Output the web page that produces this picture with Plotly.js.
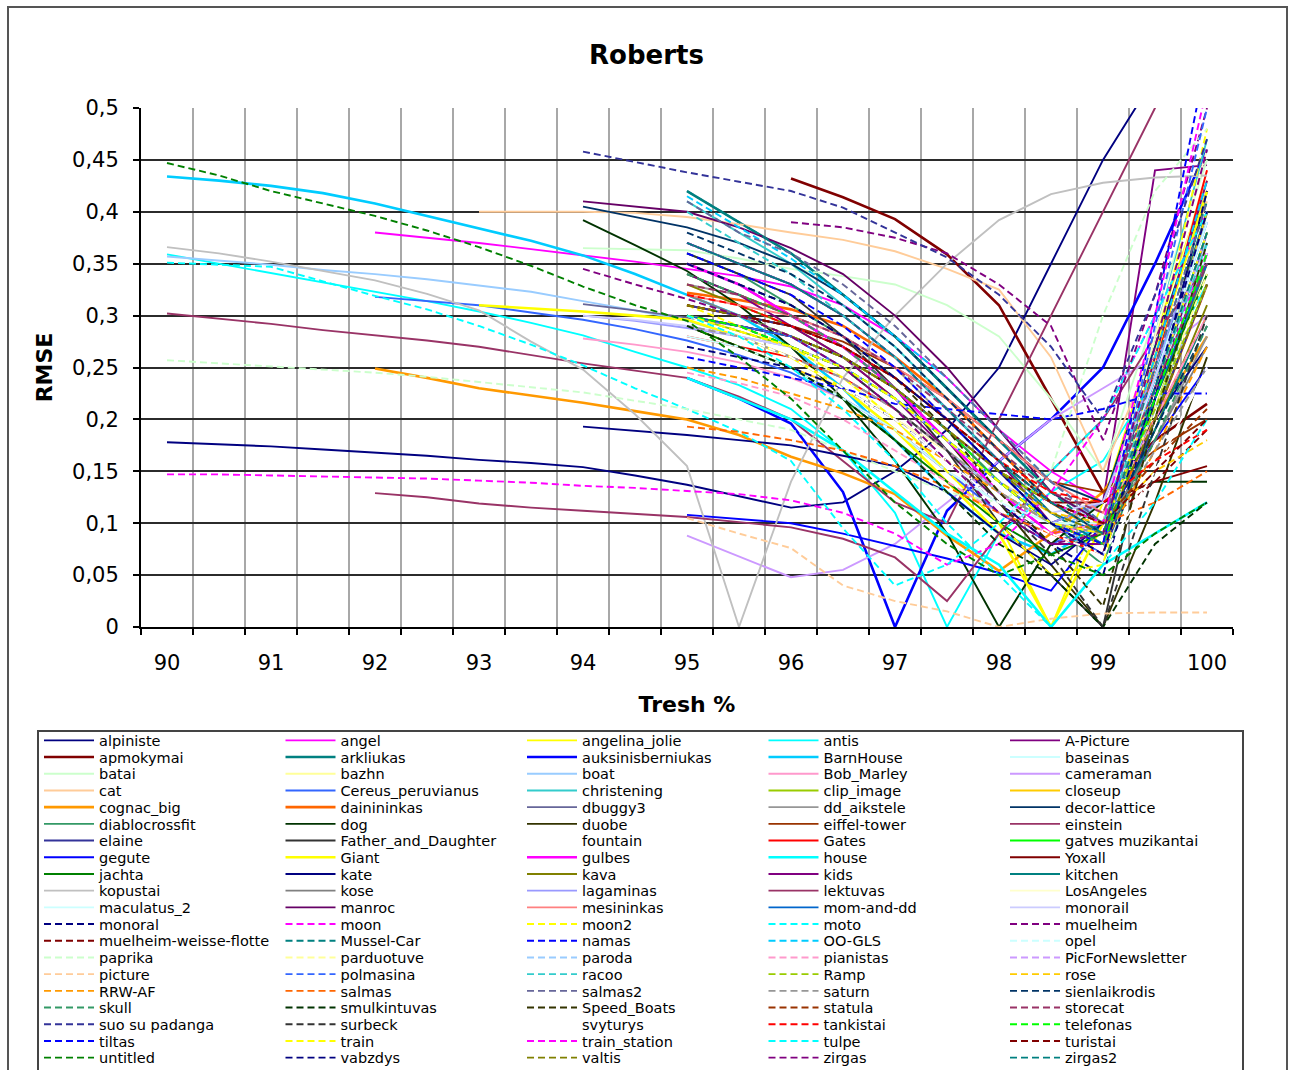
<!DOCTYPE html>
<html><head><meta charset="utf-8">
<script src="https://cdn.plot.ly/plotly-3.0.1.min.js"></script>
<style>
html,body{margin:0;padding:0;background:#fff;}
#wrap{position:relative;width:1293px;height:1070px;overflow:hidden;}
#chart{width:1293px;height:1070px;}
#frame{position:absolute;left:7px;top:6px;width:1281px;height:1120px;border:2px solid #555;pointer-events:none;box-sizing:border-box;}
</style></head><body>
<div id="wrap"><div id="chart"></div><div id="frame"></div></div>
<script>
// Threshold grid (x values, percent)
const thresholds = [90,90.5,91,91.5,92,92.5,93,93.5,94,94.5,95,95.5,96,96.5,97,97.5,98,98.5,99,99.5,100];
const xTickValues = [90,91,92,93,94,95,96,97,98,99,100];
const yTickValues = [0,0.05,0.1,0.15,0.2,0.25,0.3,0.35,0.4,0.45,0.5];

// Series names (legend order)
const seriesNames = [
 "alpiniste","angel","angelina_jolie","antis","A-Picture",
 "apmokymai","arkliukas","auksinisberniukas","BarnHouse","baseinas",
 "batai","bazhn","boat","Bob_Marley","cameraman",
 "cat","Cereus_peruvianus","christening","clip_image","closeup",
 "cognac_big","dainininkas","dbuggy3","dd_aikstele","decor-lattice",
 "diablocrossfit","dog","duobe","eiffel-tower","einstein",
 "elaine","Father_and_Daughter","fountain","Gates","gatves muzikantai",
 "gegute","Giant","gulbes","house","Yoxall",
 "jachta","kate","kava","kids","kitchen",
 "kopustai","kose","lagaminas","lektuvas","LosAngeles",
 "maculatus_2","manroc","mesininkas","mom-and-dd","monorail",
 "monoral","moon","moon2","moto","muelheim",
 "muelheim-weisse-flotte","Mussel-Car","namas","OO-GLS","opel",
 "paprika","parduotuve","paroda","pianistas","PicForNewsletter",
 "picture","polmasina","racoo","Ramp","rose",
 "RRW-AF","salmas","salmas2","saturn","sienlaikrodis",
 "skull","smulkintuvas","Speed_Boats","statula","storecat",
 "suo su padanga","surbeck","svyturys","tankistai","telefonas",
 "tiltas","train","train_station","tulpe","turistai",
 "untitled","vabzdys","valtis","zirgas","zirgas2"
];

// RMSE values per series; every series ends at 100 % (values aligned to the end of the threshold grid)
const rmseBySeries = [
 [0.178,0.176,0.174,0.171,0.168,0.165,0.161,0.158,0.154,0.146,0.137,0.126,0.115,0.12,0.15,0.19,0.25,0.35,0.45,0.53,0.6],
 [0.38,0.375,0.37,0.364,0.358,0.352,0.345,0.338,0.328,0.31,0.28,0.24,0.19,0.15,0.12,0.24,0.36],
 [0.3,0.29,0.27,0.24,0.2,0.15,0.1,0.0,0.12,0.28,0.43],
 [0.359,0.35,0.341,0.332,0.323,0.314,0.304,0.293,0.281,0.265,0.25,0.233,0.21,0.17,0.11,0.0,0.09,0.13,0.16,0.24,0.33],
 [0.37,0.35,0.33,0.3,0.26,0.21,0.16,0.1,0.12,0.44,0.445],
 [0.432,0.414,0.393,0.359,0.31,0.22,0.13,0.18,0.215],
 [0.42,0.39,0.36,0.32,0.28,0.23,0.18,0.13,0.1,0.24,0.4],
 [0.24,0.22,0.196,0.13,0.0,0.112,0.16,0.2,0.25,0.35,0.46],
 [0.434,0.43,0.425,0.418,0.408,0.396,0.384,0.372,0.358,0.34,0.32,0.3,0.27,0.23,0.18,0.13,0.09,0.07,0.1,0.24,0.37],
 [0.35,0.33,0.31,0.28,0.25,0.21,0.17,0.13,0.1,0.23,0.37],
 [0.365,0.364,0.363,0.355,0.345,0.338,0.33,0.31,0.28,0.22,0.15,0.3,0.45],
 [0.33,0.31,0.29,0.27,0.24,0.2,0.15,0.1,0.08,0.26,0.44],
 [0.357,0.353,0.349,0.344,0.34,0.335,0.329,0.323,0.314,0.305,0.295,0.28,0.26,0.23,0.19,0.15,0.12,0.09,0.12,0.25,0.37],
 [0.278,0.272,0.265,0.255,0.24,0.22,0.19,0.15,0.11,0.08,0.1,0.22,0.34],
 [0.088,0.068,0.048,0.055,0.08,0.12,0.16,0.2,0.23,0.26,0.3],
 [0.4,0.4,0.4,0.399,0.395,0.388,0.38,0.373,0.362,0.345,0.325,0.26,0.15,0.27,0.41],
 [0.318,0.314,0.31,0.303,0.296,0.287,0.276,0.262,0.245,0.22,0.19,0.15,0.11,0.08,0.1,0.24,0.39],
 [0.41,0.38,0.35,0.31,0.27,0.22,0.17,0.12,0.1,0.28,0.47],
 [0.3,0.285,0.27,0.25,0.22,0.18,0.14,0.1,0.08,0.21,0.35],
 [0.29,0.27,0.25,0.23,0.2,0.17,0.13,0.09,0.07,0.23,0.4],
 [0.249,0.24,0.23,0.223,0.216,0.208,0.2,0.185,0.164,0.148,0.128,0.088,0.054,0.09,0.13,0.2,0.28],
 [0.322,0.315,0.306,0.29,0.26,0.22,0.17,0.12,0.09,0.2,0.33],
 [0.311,0.305,0.298,0.29,0.28,0.26,0.23,0.19,0.14,0.1,0.12,0.24,0.35],
 [0.33,0.32,0.3,0.28,0.25,0.2,0.16,0.12,0.1,0.18,0.28],
 [0.405,0.395,0.385,0.37,0.35,0.32,0.28,0.23,0.18,0.14,0.12,0.27,0.42],
 [0.36,0.34,0.31,0.28,0.24,0.2,0.15,0.1,0.06,0.2,0.36],
 [0.392,0.368,0.343,0.31,0.27,0.22,0.16,0.09,0.0,0.08,0.12,0.14,0.14],
 [0.35,0.33,0.3,0.27,0.23,0.18,0.12,0.06,0.0,0.12,0.26],
 [0.31,0.3,0.29,0.275,0.25,0.22,0.18,0.14,0.13,0.17,0.2],
 [0.302,0.297,0.292,0.286,0.281,0.276,0.27,0.262,0.254,0.247,0.24,0.222,0.2,0.16,0.12,0.1,0.2,0.3,0.4,0.5,0.58],
 [0.31,0.3,0.29,0.27,0.24,0.2,0.15,0.1,0.07,0.2,0.33],
 [0.36,0.34,0.32,0.28,0.23,0.17,0.1,0.05,0.0,0.22,0.42],
 [0.3,0.28,0.26,0.23,0.2,0.16,0.12,0.08,0.06,0.15,0.25],
 [0.28,0.27,0.26,0.24,0.21,0.17,0.13,0.09,0.07,0.25,0.44],
 [0.34,0.32,0.3,0.27,0.23,0.19,0.14,0.1,0.08,0.23,0.38],
 [0.108,0.104,0.1,0.09,0.078,0.066,0.052,0.035,0.1,0.18,0.25],
 [0.31,0.307,0.304,0.3,0.296,0.28,0.26,0.23,0.19,0.14,0.09,0.0,0.1,0.26,0.42],
 [0.35,0.33,0.3,0.27,0.23,0.18,0.13,0.09,0.1,0.23,0.36],
 [0.24,0.22,0.2,0.17,0.13,0.09,0.06,0.0,0.06,0.09,0.12],
 [0.3,0.29,0.28,0.26,0.23,0.19,0.15,0.12,0.12,0.14,0.155],
 [0.29,0.27,0.25,0.22,0.18,0.14,0.1,0.07,0.09,0.22,0.34],
 [0.193,0.189,0.185,0.18,0.175,0.165,0.155,0.13,0.09,0.06,0.1,0.2,0.27],
 [0.33,0.31,0.29,0.26,0.22,0.18,0.14,0.1,0.08,0.19,0.31],
 [0.34,0.32,0.29,0.26,0.22,0.17,0.12,0.08,0.08,0.26,0.43],
 [0.37,0.35,0.33,0.3,0.26,0.21,0.16,0.11,0.08,0.19,0.3],
 [0.366,0.36,0.352,0.343,0.334,0.321,0.305,0.275,0.248,0.205,0.155,0.0,0.14,0.24,0.3,0.35,0.392,0.417,0.428,0.433,0.435],
 [0.32,0.3,0.28,0.25,0.21,0.17,0.13,0.1,0.09,0.18,0.27],
 [0.3,0.295,0.288,0.28,0.27,0.25,0.22,0.18,0.14,0.1,0.12,0.25,0.39],
 [0.129,0.125,0.119,0.115,0.112,0.109,0.106,0.101,0.096,0.085,0.067,0.025,0.09,0.15,0.2,0.28,0.35],
 [0.3,0.29,0.27,0.24,0.2,0.17,0.13,0.1,0.1,0.28,0.46],
 [0.28,0.27,0.25,0.22,0.19,0.15,0.12,0.1,0.1,0.24,0.39],
 [0.41,0.405,0.4,0.385,0.365,0.34,0.3,0.25,0.19,0.13,0.1,0.22,0.38],
 [0.32,0.31,0.3,0.28,0.25,0.22,0.18,0.14,0.11,0.2,0.3],
 [0.3,0.29,0.28,0.26,0.23,0.19,0.15,0.11,0.09,0.22,0.35],
 [0.3,0.296,0.29,0.28,0.27,0.25,0.22,0.18,0.14,0.11,0.12,0.24,0.37],
 [0.27,0.26,0.25,0.23,0.2,0.16,0.12,0.08,0.05,0.22,0.42],
 [0.147,0.147,0.146,0.145,0.144,0.143,0.141,0.139,0.136,0.134,0.131,0.128,0.122,0.11,0.09,0.06,0.08,0.13,0.2,0.3,0.4],
 [0.31,0.29,0.27,0.24,0.2,0.15,0.1,0.05,0.06,0.26,0.48],
 [0.351,0.349,0.347,0.333,0.319,0.306,0.29,0.272,0.252,0.23,0.21,0.188,0.16,0.095,0.04,0.06,0.1,0.15,0.2,0.3,0.4],
 [0.39,0.385,0.375,0.36,0.33,0.29,0.18,0.32,0.5],
 [0.3,0.29,0.28,0.26,0.23,0.19,0.15,0.12,0.1,0.14,0.19],
 [0.42,0.39,0.36,0.32,0.28,0.23,0.18,0.13,0.09,0.25,0.41],
 [0.26,0.25,0.24,0.23,0.215,0.21,0.205,0.2,0.21,0.225,0.225],
 [0.415,0.385,0.355,0.32,0.28,0.24,0.19,0.14,0.1,0.26,0.43],
 [0.35,0.33,0.31,0.28,0.24,0.2,0.16,0.12,0.1,0.23,0.36],
 [0.257,0.254,0.251,0.248,0.245,0.241,0.236,0.231,0.226,0.218,0.21,0.2,0.19,0.17,0.15,0.13,0.12,0.15,0.3,0.42,0.48],
 [0.31,0.3,0.28,0.26,0.23,0.19,0.15,0.11,0.09,0.21,0.34],
 [0.3,0.29,0.27,0.25,0.21,0.17,0.13,0.1,0.09,0.21,0.33],
 [0.245,0.235,0.222,0.2,0.17,0.14,0.11,0.09,0.1,0.2,0.3],
 [0.29,0.28,0.26,0.24,0.21,0.17,0.13,0.1,0.09,0.23,0.38],
 [0.105,0.09,0.076,0.04,0.025,0.015,0.0,0.008,0.013,0.014,0.014],
 [0.3,0.29,0.28,0.25,0.22,0.18,0.14,0.1,0.07,0.29,0.5],
 [0.4,0.37,0.34,0.3,0.26,0.21,0.16,0.12,0.1,0.23,0.37],
 [0.31,0.3,0.28,0.26,0.23,0.19,0.15,0.12,0.1,0.21,0.33],
 [0.3,0.285,0.27,0.25,0.22,0.18,0.14,0.11,0.1,0.15,0.18],
 [0.25,0.24,0.225,0.21,0.19,0.16,0.13,0.1,0.08,0.17,0.27],
 [0.193,0.188,0.18,0.17,0.155,0.135,0.11,0.09,0.1,0.12,0.15],
 [0.41,0.38,0.36,0.33,0.29,0.24,0.19,0.14,0.1,0.25,0.41],
 [0.29,0.28,0.26,0.24,0.21,0.17,0.13,0.1,0.09,0.17,0.25],
 [0.38,0.36,0.34,0.31,0.27,0.22,0.17,0.12,0.09,0.19,0.29],
 [0.34,0.32,0.3,0.27,0.23,0.19,0.14,0.1,0.08,0.18,0.29],
 [0.29,0.27,0.25,0.22,0.18,0.13,0.08,0.05,0.0,0.08,0.12],
 [0.35,0.33,0.31,0.28,0.24,0.19,0.13,0.08,0.02,0.2,0.37],
 [0.31,0.3,0.29,0.27,0.24,0.2,0.16,0.12,0.1,0.16,0.21],
 [0.33,0.32,0.3,0.28,0.25,0.21,0.17,0.13,0.11,0.23,0.35],
 [0.458,0.448,0.438,0.429,0.42,0.404,0.38,0.356,0.32,0.27,0.2,0.32,0.47],
 [0.3,0.29,0.27,0.25,0.21,0.17,0.12,0.07,0.0,0.15,0.3],
 [0.3,0.28,0.26,0.23,0.2,0.16,0.12,0.09,0.07,0.15,0.25],
 [0.32,0.31,0.29,0.27,0.24,0.2,0.16,0.13,0.12,0.16,0.19],
 [0.3,0.29,0.27,0.25,0.22,0.18,0.14,0.1,0.08,0.22,0.36],
 [0.36,0.34,0.32,0.29,0.25,0.2,0.15,0.1,0.08,0.3,0.55],
 [0.3,0.285,0.27,0.25,0.22,0.18,0.14,0.1,0.09,0.23,0.38],
 [0.37,0.35,0.33,0.3,0.26,0.21,0.16,0.12,0.1,0.3,0.52],
 [0.3,0.28,0.25,0.21,0.16,0.1,0.05,0.0,0.06,0.12,0.2],
 [0.31,0.3,0.29,0.27,0.24,0.2,0.16,0.12,0.1,0.15,0.2],
 [0.447,0.435,0.42,0.408,0.396,0.382,0.366,0.348,0.328,0.31,0.295,0.26,0.22,0.17,0.12,0.08,0.05,0.07,0.05,0.09,0.12],
 [0.35,0.33,0.31,0.28,0.24,0.2,0.15,0.1,0.07,0.23,0.4],
 [0.31,0.3,0.28,0.26,0.23,0.19,0.15,0.11,0.09,0.2,0.33],
 [0.345,0.33,0.316,0.3,0.28,0.25,0.21,0.16,0.11,0.08,0.09,0.27,0.46],
 [0.37,0.35,0.33,0.3,0.26,0.21,0.16,0.12,0.09,0.23,0.38]
];

// Styles (Excel default chart palette order)
const paletteA = ["#000080","#FF00FF","#FFFF00","#00FFFF","#800080","#800000","#008080","#0000FF",
 "#00CCFF","#CCFFFF","#CCFFCC","#FFFF99","#99CCFF","#FF99CC","#CC99FF","#FFCC99",
 "#3366FF","#33CCCC","#99CC00","#FFCC00","#FF9900","#FF6600","#666699","#969696",
 "#003366","#339966","#003300","#333300","#993300","#993366","#333399","#333333"];
const paletteB = ["#FFFFFF","#FF0000","#00FF00","#0000FF","#FFFF00","#FF00FF","#00FFFF","#800000",
 "#008000","#000080","#808000","#800080","#008080","#C0C0C0","#808080","#9999FF",
 "#993366","#FFFFCC","#CCFFFF","#660066","#FF8080","#0066CC","#CCCCFF"];
const seriesColors = paletteA.concat(paletteB, paletteA, paletteB.slice(0,13));
const thickSeries = ["apmokymai","arkliukas","auksinisberniukas","BarnHouse","cognac_big","dainininkas","Giant","gulbes","house"];
const solidCount = 55;

const traces = seriesNames.map((name, i) => {
  const ys = rmseBySeries[i];
  const xs = thresholds.slice(thresholds.length - ys.length);
  return {
    type: 'scatter', mode: 'lines', name: name,
    x: xs, y: ys,
    line: {
      color: seriesColors[i],
      width: thickSeries.includes(name) ? 2.6 : 1.9,
      dash: i < solidCount ? 'solid' : '7px,4px'
    }
  };
});

const layout = {
  width: 1293, height: 1070,
  margin: {l: 141, r: 60, t: 108, b: 443, autoexpand: false},
  paper_bgcolor: '#ffffff', plot_bgcolor: '#ffffff',
  separators: ', ',
  font: {family: 'DejaVu Sans, Arial, sans-serif', color: '#000000'},
  title: {text: '<b>Roberts</b>', x: 0.5, xref: 'container', xanchor: 'center',
          y: 1 - 55/1070, yref: 'container', yanchor: 'middle',
          font: {size: 26, color: '#000'}},
  showlegend: true,
  hovermode: false,
  xaxis: {
    range: [89.75, 100.25], tickvals: xTickValues, ticktext: xTickValues.map(String),
    ticks: '', showgrid: false, zeroline: false,
    showline: true, linecolor: '#000', linewidth: 2,
    tickfont: {size: 21, color: '#000'}, ticklabelstandoff: 16,
    minor: {tick0: 89.75, dtick: 0.5, ticks: 'outside', ticklen: 6, tickwidth: 2, tickcolor: '#000',
            showgrid: true, gridcolor: '#a8a8a8', gridwidth: 2.5},
    title: {text: '<b>Tresh %</b>', font: {size: 22, color: '#000'}, standoff: 22},
    automargin: false
  },
  yaxis: {
    range: [0, 0.5], tickvals: yTickValues,
    ticks: 'outside', ticklen: 6, tickwidth: 2, tickcolor: '#000',
    showline: true, linecolor: '#000', linewidth: 2,
    showgrid: true, gridcolor: '#2b2b2b', gridwidth: 2, zeroline: false,
    tickfont: {size: 21, color: '#000'}, ticklabelstandoff: 10,
    title: {text: '<b>RMSE</b>', font: {size: 22, color: '#000'}, standoff: 13},
    automargin: false
  },
  legend: {
    orientation: 'h', x: (37 - 141) / 1092, xanchor: 'left', y: (627 - 730) / 519, yanchor: 'top',
    bgcolor: '#ffffff', bordercolor: '#444444', borderwidth: 2,
    font: {size: 14.5, color: '#000'}, entrywidth: 176.5, entrywidthmode: 'pixels',
    itemwidth: 50, traceorder: 'normal'
  }
};

const LEGEND_ROW_PITCH = 16.7;   // legend row spacing in the reference (px)
const LEGEND_FIRST_ROW_Y = 741;  // centre of first legend row (px)
const LEGEND_RIGHT_EDGE = 1243;  // right border of the legend box (px)

Plotly.newPlot('chart', traces, layout, {displayModeBar: false, staticPlot: true}).then(gd => {
  const wrapBox = document.getElementById('wrap').getBoundingClientRect();
  // tighten legend rows to the reference pitch (Plotly enforces a 19px minimum)
  const items = Array.from(gd.querySelectorAll('.legend .traces'));
  const re = /translate\(\s*([-\d.eE]+)[\s,]+([-\d.eE]+)\s*\)/;
  const pos = items.map(el => {
    const m = re.exec(el.getAttribute('transform') || '');
    return m ? [parseFloat(m[1]), parseFloat(m[2])] : [0, 0];
  });
  const rowYs = Array.from(new Set(pos.map(p => Math.round(p[1] * 10) / 10))).sort((a, b) => a - b);
  items.forEach((el, k) => {
    const row = rowYs.indexOf(Math.round(pos[k][1] * 10) / 10);
    el.setAttribute('transform', `translate(${pos[k][0]},${rowYs[0] + row * LEGEND_ROW_PITCH})`);
  });
  if (items.length) {
    const r = items[0].querySelector('.legendtext').getBoundingClientRect();
    const delta = LEGEND_FIRST_ROW_Y - (r.top + r.height / 2 - wrapBox.top);
    items.forEach(el => {
      const m = re.exec(el.getAttribute('transform'));
      el.setAttribute('transform', `translate(${m[1]},${parseFloat(m[2]) + delta})`);
    });
  }
  // match the legend box width
  const bg = gd.querySelector('.legend rect.bg');
  if (bg) {
    const rb = bg.getBoundingClientRect();
    const over = (rb.right - wrapBox.left) - LEGEND_RIGHT_EDGE;
    const w = parseFloat(bg.getAttribute('width'));
    if (isFinite(w) && isFinite(over)) bg.setAttribute('width', Math.max(10, w - over));
  }
});
</script>
</body></html>
